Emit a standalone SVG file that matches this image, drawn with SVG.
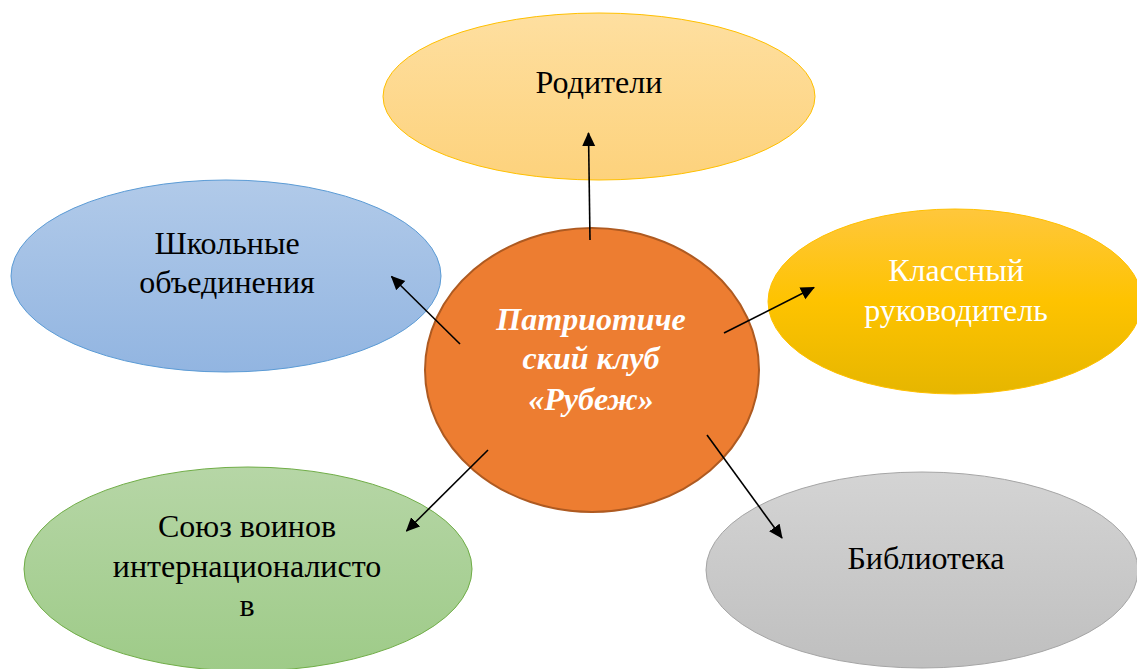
<svg xmlns="http://www.w3.org/2000/svg" width="1137" height="669" viewBox="0 0 1137 669">
<style>
.t{font-family:"Liberation Serif","Times New Roman",serif;font-size:32px;text-anchor:middle;fill:#000}
.w{fill:#fff}
.c{font-family:"Liberation Serif","Times New Roman",serif;font-size:32px;font-weight:bold;font-style:italic;text-anchor:middle;fill:#fff}
.conn line{stroke:#000;stroke-width:1.6;marker-end:url(#ah)}
</style>
<defs>
<marker id="ah" markerWidth="14" markerHeight="14" refX="13" refY="7" orient="auto" markerUnits="userSpaceOnUse" viewBox="0 0 14 14">
<path d="M0,0.5 L14,7 L0,13.5 Z" fill="#000"/>
</marker>
<linearGradient id="gY" x1="0" y1="0" x2="0" y2="1"><stop offset="0" stop-color="#fedfa0"/><stop offset="1" stop-color="#fdd27c"/></linearGradient>
<linearGradient id="gB" x1="0" y1="0" x2="0" y2="1"><stop offset="0" stop-color="#b1cae9"/><stop offset="1" stop-color="#92b5e1"/></linearGradient>
<linearGradient id="gO" x1="0" y1="0" x2="0" y2="1"><stop offset="0" stop-color="#ffc73c"/><stop offset="0.5" stop-color="#fec300"/><stop offset="1" stop-color="#e6b600"/></linearGradient>
<linearGradient id="gG" x1="0" y1="0" x2="0" y2="1"><stop offset="0" stop-color="#d4d4d4"/><stop offset="1" stop-color="#bfbfbf"/></linearGradient>
<linearGradient id="gE" x1="0" y1="0" x2="0" y2="1"><stop offset="0" stop-color="#b6d6a6"/><stop offset="1" stop-color="#9ecb88"/></linearGradient>
</defs>
<g id="node-roditeli">
<ellipse cx="599" cy="96.5" rx="216" ry="83.5" fill="url(#gY)" stroke="#ffc000" stroke-width="1"/>
<text class="t" x="599" y="93">Родители</text>
</g>
<g id="node-shkolnye">
<ellipse cx="226" cy="276" rx="215" ry="96" fill="url(#gB)" stroke="#5b9bd5" stroke-width="1"/>
<text class="t" x="227" y="254">Школьные</text>
<text class="t" x="227" y="293">объединения</text>
</g>
<g id="node-klassny">
<ellipse cx="955" cy="301.5" rx="187" ry="92.5" fill="url(#gO)" stroke="#ffc000" stroke-width="1"/>
<text class="t w" x="956" y="281">Классный</text>
<text class="t w" x="956" y="321">руководитель</text>
</g>
<g id="node-biblioteka">
<ellipse cx="922" cy="570" rx="216" ry="98" fill="url(#gG)" stroke="#a5a5a5" stroke-width="1"/>
<text class="t" x="926" y="569">Библиотека</text>
</g>
<g id="node-soyuz">
<ellipse cx="248" cy="569" rx="224" ry="102" fill="url(#gE)" stroke="#70ad47" stroke-width="1"/>
<text class="t" x="247" y="537">Союз воинов</text>
<text class="t" x="247" y="577">интернационалисто</text>
<text class="t" x="247" y="616">в</text>
</g>
<g id="node-center">
<ellipse cx="592" cy="370" rx="167" ry="142" fill="#ed7d31" stroke="#ae5a21" stroke-width="2"/>
<text class="c" x="591" y="330">Патриотиче</text>
<text class="c" x="591" y="369">ский клуб</text>
<text class="c" x="591" y="410">«Рубеж»</text>
</g>
<g id="connectors" class="conn">
<line x1="590" y1="240" x2="588.5" y2="133"/>
<line x1="460" y1="344" x2="391.5" y2="276.5"/>
<line x1="724" y1="333" x2="814" y2="287.5"/>
<line x1="707" y1="435" x2="782" y2="538"/>
<line x1="488" y1="450" x2="406.5" y2="531"/>
</g>
</svg>
